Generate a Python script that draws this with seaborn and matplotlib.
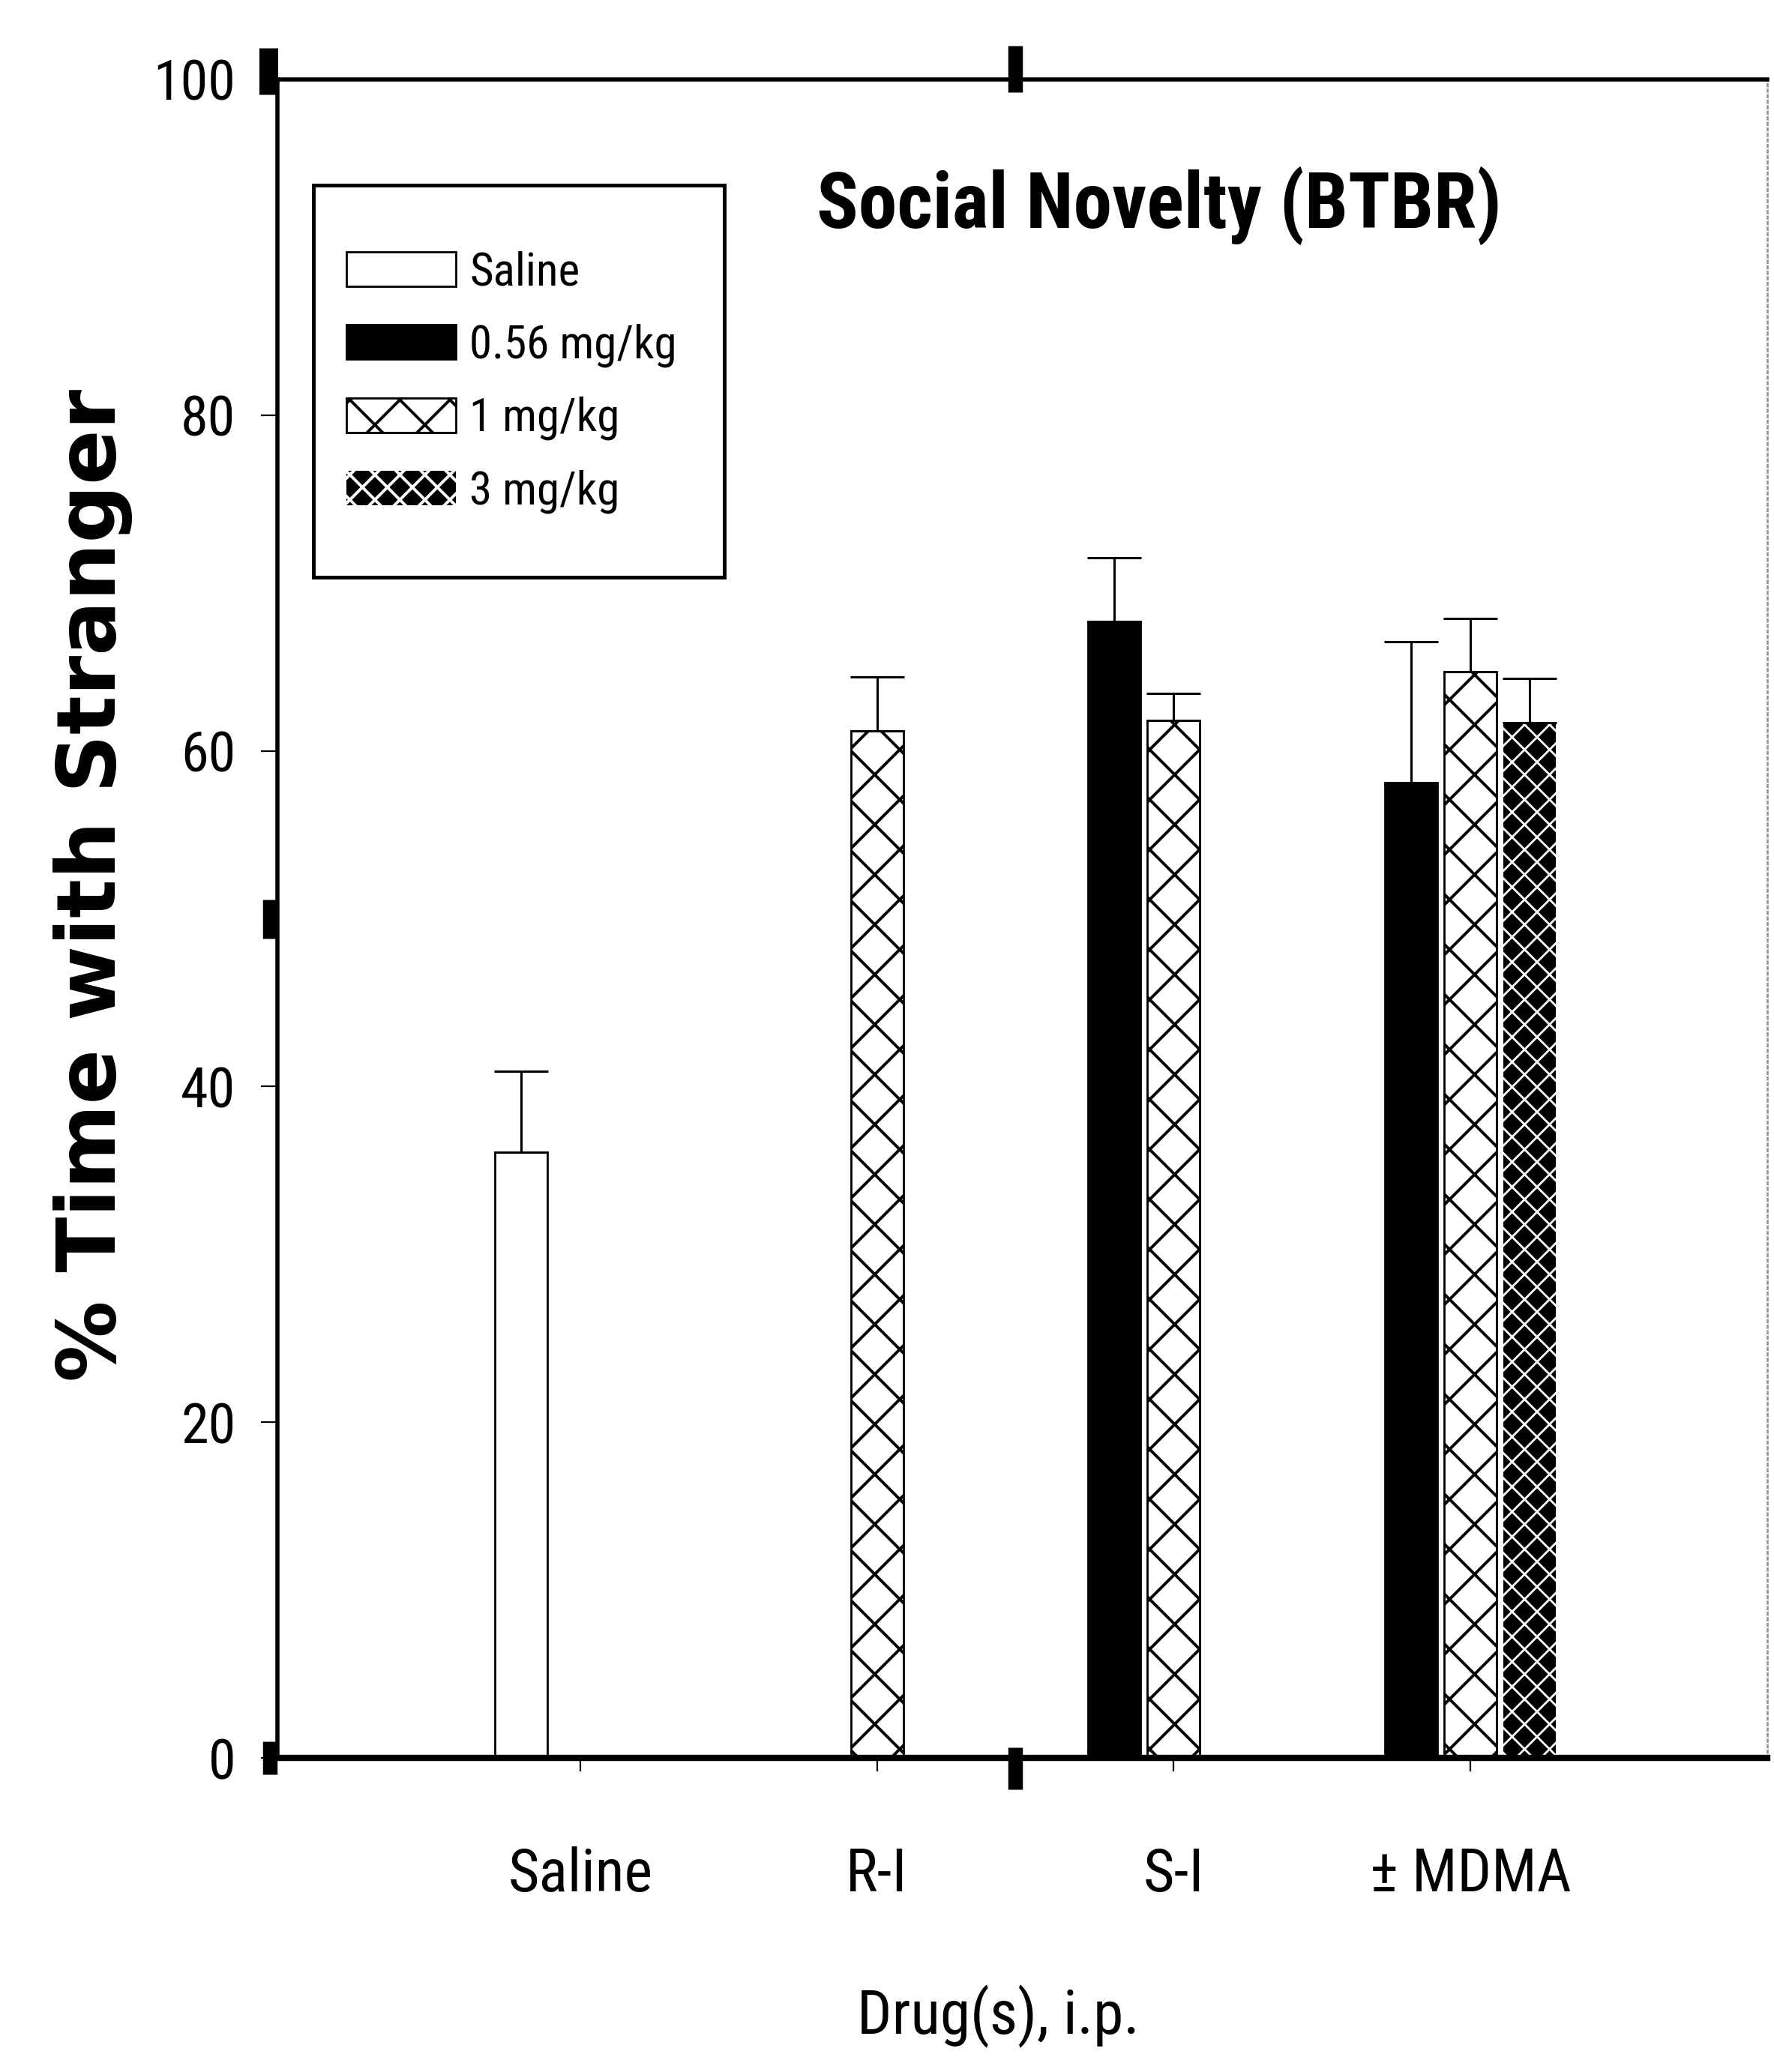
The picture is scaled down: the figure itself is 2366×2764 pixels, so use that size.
import numpy as np
import pandas as pd
import matplotlib
matplotlib.use("Agg")
import matplotlib.pyplot as plt
import matplotlib.patches as mpatches
import matplotlib.font_manager as fm
import matplotlib.transforms as mtransforms
import seaborn as sns

# ---- data ----
categories = ["Saline", "R-I", "S-I", "\u00b1 MDMA"]
doses = ["Saline", "0.56 mg/kg", "1 mg/kg", "3 mg/kg"]
bar_drug = ["Saline", "R-I", "S-I", "S-I", "\u00b1 MDMA", "\u00b1 MDMA", "\u00b1 MDMA"]
bar_dose = ["Saline", "1 mg/kg", "0.56 mg/kg", "1 mg/kg", "0.56 mg/kg", "1 mg/kg", "3 mg/kg"]
bar_mean = [36.1, 61.2, 67.7, 61.8, 58.1, 64.7, 61.7]
bar_sem = [4.8, 3.2, 3.8, 1.6, 8.4, 3.2, 2.6]

title_text = "Social Novelty (BTBR)"
ylabel_text = "% Time with Stranger"
xlabel_text = "Drug(s), i.p."
yticks = [0, 20, 40, 60, 80, 100]

slot_of = {"Saline": "a", "0.56 mg/kg": "a", "1 mg/kg": "b", "3 mg/kg": "c"}
slot_order = ["a", "b", "c"]

df = pd.DataFrame({"drug": bar_drug, "dose": bar_dose, "value": bar_mean, "sem": bar_sem})
df["slot"] = df["dose"].map(slot_of)

# facecolor, edge (also hatch colour), edge width, hatch, hatch width
styles = {
    "Saline": dict(fc="white", ec="black", lw=1.0, hatch=None, hlw=1.0),
    "0.56 mg/kg": dict(fc="black", ec="black", lw=1.0, hatch=None, hlw=1.0),
    "1 mg/kg": dict(fc="white", ec="black", lw=1.0, hatch="x", hlw=1.4),
    "3 mg/kg": dict(fc="black", ec="white", lw=0.0, hatch="xx", hlw=1.0),
}

sns.set_style("ticks")

# pick a condensed sans family if one is installed
narrow_name, narrow_stretch, fscale = "Liberation Sans", "normal", 1.0
names = {e.name: e for e in fm.fontManager.ttflist}
for pref in ["Liberation Sans Narrow", "Arial Narrow", "Roboto Condensed",
             "Open Sans Condensed", "Noto Sans Condensed"]:
    if pref in names:
        narrow_name, narrow_stretch, fscale = pref, "condensed", 1.2
        break

plt.rcParams["font.family"] = [narrow_name, "DejaVu Sans"]
plt.rcParams["font.stretch"] = narrow_stretch
for k in ["text.color", "axes.labelcolor", "xtick.color", "ytick.color", "axes.edgecolor"]:
    plt.rcParams[k] = "black"
plt.rcParams["hatch.linewidth"] = 1.4


def style_patch(p, d):
    st = styles[d]
    p.set_facecolor(st["fc"])
    p.set_edgecolor(st["ec"])
    p.set_linewidth(st["lw"])
    if st["hatch"]:
        p.set_hatch(st["hatch"])
        if hasattr(p, "set_hatch_linewidth"):
            p.set_hatch_linewidth(st["hlw"])


W, H, DPI = 2366, 2764, 200
fig = plt.figure(figsize=(W / DPI, H / DPI), dpi=DPI)
ax = fig.add_axes([370 / W, 1 - 2345 / H, (2357 - 370) / W, (2345 - 106) / H])

sns.barplot(data=df, x="drug", y="value", hue="slot", order=categories,
            hue_order=slot_order, dodge=True, width=0.6, gap=0.115,
            errorbar=None, legend=False, ax=ax, palette=["white"] * 3)

# style bars according to dose, located by their library-computed positions
for p in list(ax.patches):
    cx = p.get_x() + p.get_width() / 2
    ci = int(round(cx))
    si = int(round((cx - ci) / 0.2)) + 1
    sub = df[(df["drug"] == categories[ci]) & (df["slot"] == slot_order[si])]
    if sub.empty:
        continue
    row = sub.iloc[0]
    style_patch(p, row["dose"])
    ax.errorbar(cx, row["value"], yerr=[[0], [row["sem"]]], fmt="none",
                ecolor="black", elinewidth=1.1, capsize=13, capthick=1.1, zorder=5)

ax.set_xlim(-1.02, 4.0)
ax.set_ylim(0, 100)
ax.set_yticks(yticks)
ax.set_yticklabels([str(v) for v in yticks], fontsize=22.3 * fscale)
ax.set_xticks(range(len(categories)))
ax.set_xticklabels(categories, fontsize=24 * fscale)
ax.tick_params(axis="x", direction="out", length=6.5, width=0.8, pad=36)
ax.tick_params(axis="y", direction="out", length=8, width=0.8, pad=12)

ax.set_xlabel(xlabel_text, fontsize=24.5 * fscale, va="center")
ax.xaxis.set_label_coords(0.484, -0.154)
ax.set_ylabel(ylabel_text, fontsize=39, fontweight="bold", family="DejaVu Sans",
              stretch="normal", va="center")
ax.yaxis.set_label_coords(-0.124, 0.52)

ax.text(0.592, 0.925, title_text, transform=ax.transAxes, ha="center", va="center",
        fontsize=31 * fscale, fontweight="bold")

for side in ["left", "top"]:
    ax.spines[side].set_linewidth(2.0)
ax.spines["bottom"].set_linewidth(3.0)
ax.spines["right"].set_visible(True)
ax.spines["right"].set_color("#999999")
ax.spines["right"].set_linestyle(":")
ax.spines["right"].set_linewidth(1.0)

# heavy frame marks at ends and middles of the frame, sitting outside the frame
def frame_mark(xf, yf, dx_pt, dy_pt, ms, mew):
    tr = ax.transAxes + mtransforms.ScaledTranslation(dx_pt / 72, dy_pt / 72, fig.dpi_scale_trans)
    ax.plot([xf], [yf], transform=tr, marker="|", ms=ms, mew=mew, ls="none",
            color="black", clip_on=False, zorder=6)

frame_mark(0, 1, -4.5, 4, 22, 9)
frame_mark(0, 0.5, -3.5, 0, 19, 7)
frame_mark(0, 0, -3.5, 0, 16, 7)
frame_mark(0.495, 1, 0, 5, 22, 7)
frame_mark(0.495, 0, 0, -5, 20, 7)

# legend: entries placed without frame, box drawn separately
handles = []
for d in doses:
    h = mpatches.Patch()
    style_patch(h, d)
    handles.append(h)
lfs = 18.3 * fscale
em_px = lfs * DPI / 72
leg = ax.legend(handles, doses, loc="upper left", bbox_to_anchor=(0.0463, 0.898),
                fontsize=lfs, frameon=False, handlelength=146 / em_px,
                handleheight=48 / em_px, labelspacing=0.64, borderpad=0,
                handletextpad=0.3, borderaxespad=0)
ax.add_patch(mpatches.Rectangle((0.0242, 0.7034), 0.2758, 0.2336, transform=ax.transAxes,
                                fill=False, edgecolor="black", linewidth=1.8, zorder=4,
                                clip_on=False))

fig.savefig("out.png", dpi=DPI)
